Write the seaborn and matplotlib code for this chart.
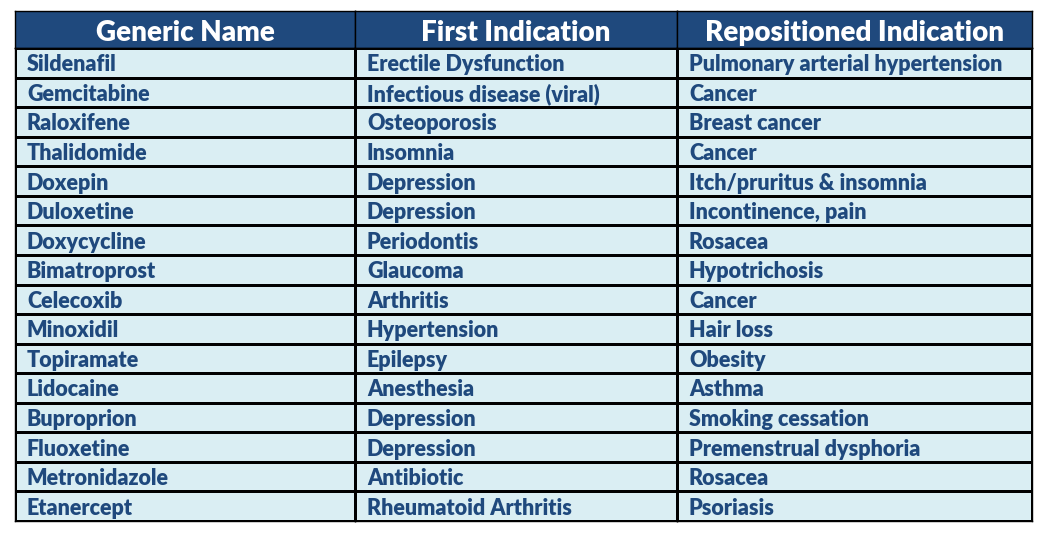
import numpy as np
import pandas as pd
import seaborn as sns
import matplotlib.pyplot as plt
from matplotlib.colors import ListedColormap

headers = ["Generic Name", "First Indication", "Repositioned Indication"]
generic = ["Sildenafil", "Gemcitabine", "Raloxifene", "Thalidomide", "Doxepin",
           "Duloxetine", "Doxycycline", "Bimatroprost", "Celecoxib", "Minoxidil",
           "Topiramate", "Lidocaine", "Buproprion", "Fluoxetine", "Metronidazole",
           "Etanercept"]
first = ["Erectile Dysfunction", "Infectious disease (viral)", "Osteoporosis",
         "Insomnia", "Depression", "Depression", "Periodontis", "Glaucoma",
         "Arthritis", "Hypertension", "Epilepsy", "Anesthesia", "Depression",
         "Depression", "Antibiotic", "Rheumatoid Arthritis"]
repositioned = ["Pulmonary arterial hypertension", "Cancer", "Breast cancer",
                "Cancer", "Itch/pruritus & insomnia", "Incontinence, pain",
                "Rosacea", "Hypotrichosis", "Cancer", "Hair loss", "Obesity",
                "Asthma", "Smoking cessation", "Premenstrual dysphoria", "Rosacea",
                "Psoriasis"]

df = pd.DataFrame({headers[0]: generic, headers[1]: first, headers[2]: repositioned})

sns.set_theme(style="white")
plt.rcParams['font.family'] = ['Lato', 'DejaVu Sans']

navy = "#1F497D"
light = "#DAEEF3"

W, H = 1047, 535
fig = plt.figure(figsize=(W / 100, H / 100), dpi=100)

col_edges = [15, 355, 677, 1032]
top, head_bot, bottom = 11, 48, 521

for j, col in enumerate(df.columns):
    x0, x1 = col_edges[j], col_edges[j + 1]
    w = x1 - x0
    # header cell
    axh = fig.add_axes([x0 / W, (H - head_bot) / H, w / W, (head_bot - top) / H])
    sns.heatmap(np.zeros((1, 1)), ax=axh, cmap=ListedColormap([navy]), cbar=False,
                xticklabels=False, yticklabels=False, linewidths=0)
    axh.text(0.5, 0.52, col, ha="center", va="center_baseline", color="white",
             fontsize=20, fontweight="heavy")
    # body cells
    axb = fig.add_axes([x0 / W, (H - bottom) / H, w / W, (bottom - head_bot) / H])
    sns.heatmap(np.zeros((len(df), 1)), ax=axb, cmap=ListedColormap([light]),
                cbar=False, xticklabels=False, yticklabels=False,
                linewidths=1, linecolor="black")
    for i, val in enumerate(df[col]):
        axb.text(12 / w, i + 0.5, val, ha="left", va="center_baseline", color=navy,
                 fontsize=15.5, fontweight="heavy")
    for ax in (axh, axb):
        for s in ax.spines.values():
            s.set_visible(True)
            s.set_color("black")
            s.set_linewidth(1)

fig.savefig("out.png", dpi=100)
